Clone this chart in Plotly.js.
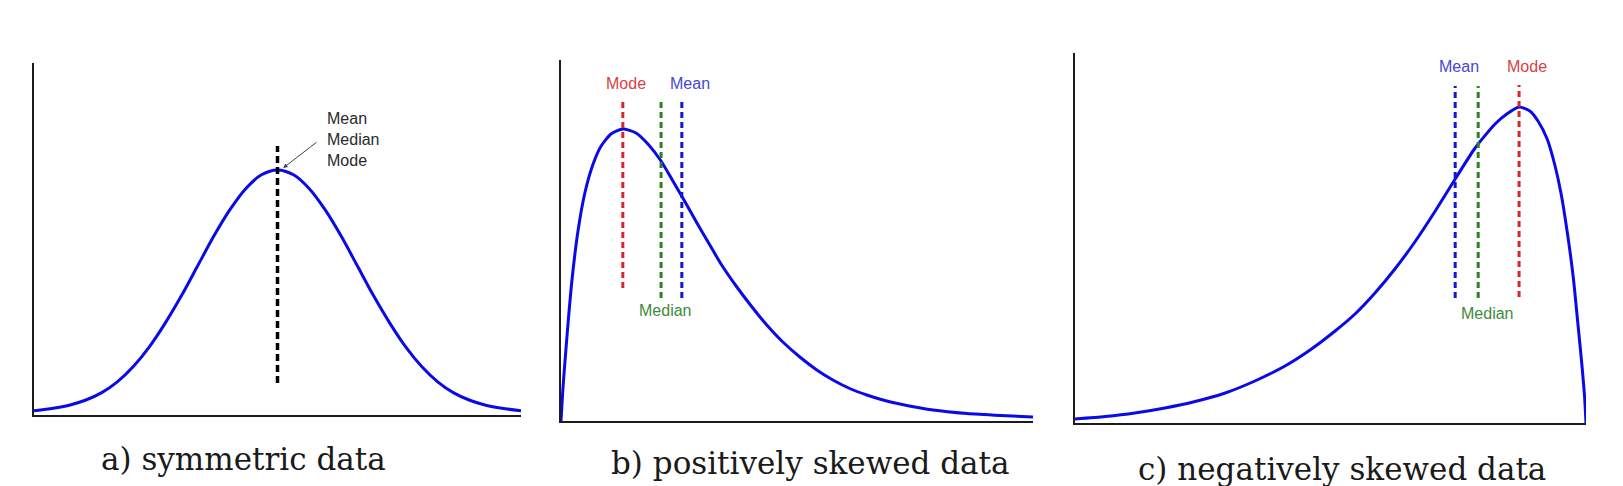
<!DOCTYPE html>
<html><head><meta charset="utf-8">
<script src="https://cdn.plot.ly/plotly-3.0.1.min.js"></script>
<style>html,body{margin:0;padding:0;background:#fff;} #chart{width:1623px;height:486px;}</style>
</head><body><div id="chart"></div>
<script>
// ---- Panel a: symmetric data ----
const symX = [-3.04,-2.8,-2.6,-2.4,-2.2,-2.0,-1.8,-1.6,-1.4,-1.2,-1.0,-0.8,-0.6,-0.4,-0.2,0,
              0.2,0.4,0.6,0.8,1.0,1.2,1.4,1.6,1.8,2.0,2.2,2.4,2.6,2.8,3.04];
const symY = [0.007,0.011,0.016,0.024,0.036,0.054,0.079,0.111,0.150,0.194,0.242,0.290,0.333,0.368,0.391,0.399,
              0.391,0.368,0.333,0.290,0.242,0.194,0.150,0.111,0.079,0.054,0.036,0.024,0.016,0.011,0.007];
const symCentre = 0;
const symLineLow = 0.052, symLineHigh = 0.438;
const symLabel = 'Mean<br>Median<br>Mode';

// ---- Panel b: positively skewed data ----
const posX = [0,0.04,0.085,0.15,0.23,0.36,0.51,0.68,0.85,1.06,1.31,1.59,1.86,2.12,2.37,2.63,2.88,3.14,3.39,3.71,
              4.03,4.36,4.70,5.06,5.42,5.76,6.14,6.48,6.82,7.18,7.88,8.60,9.32,10.0];
const posY = [0,0.032,0.060,0.098,0.140,0.190,0.229,0.257,0.275,0.287,0.292,0.288,0.276,0.260,0.240,0.219,0.198,0.177,0.157,0.135,
              0.115,0.096,0.079,0.064,0.051,0.041,0.032,0.026,0.021,0.017,0.011,0.0075,0.0055,0.004];
const posStatNames = ['Mode','Median','Mean'];
const posStatX = [1.31,2.12,2.56];
const posStatLow = [0.133,0.123,0.123];
const posStatHigh = [0.321,0.319,0.319];

// ---- Panel c: negatively skewed data ----
const negX = [0,0.59,1.17,1.76,2.35,2.94,3.52,4.11,4.60,5.09,5.48,5.87,6.26,6.65,7.05,7.44,7.83,8.22,8.45,8.69,
              8.90,9.06,9.24,9.39,9.51,9.63,9.75,9.84,9.92,9.97,10.0];
const negY = [0.004,0.0065,0.010,0.015,0.0215,0.030,0.042,0.057,0.073,0.092,0.109,0.130,0.154,0.181,0.212,0.244,0.275,0.299,0.309,0.316,
              0.312,0.302,0.284,0.258,0.230,0.192,0.146,0.100,0.058,0.028,0];
const negStatNames = ['Mean','Median','Mode'];
const negStatX = [7.44,7.89,8.69];
const negStatLow = [0.125,0.125,0.126];
const negStatHigh = [0.337,0.337,0.338];

const captions = ['a) symmetric data','b) positively skewed data','c) negatively skewed data'];

const statColor = {Mode:'#d9262a', Median:'#2f7f23', Mean:'#1414d4'};
const statText  = {Mode:'#d8423f', Median:'#3e8b3a', Mean:'#4747d8'};
const curveColor = '#0a0ae8';
const narrow = '"Liberation Sans Narrow", "Arial Narrow", "Liberation Sans", Arial, sans-serif';

const traces = [];
traces.push({x:symX, y:symY, xaxis:'x', yaxis:'y', mode:'lines', line:{color:curveColor, width:3, shape:'spline', smoothing:0.8}, hoverinfo:'skip'});
traces.push({x:[symCentre,symCentre], y:[symLineLow,symLineHigh], xaxis:'x', yaxis:'y', mode:'lines', line:{color:'#000', width:3.5, dash:'7px,4px'}, hoverinfo:'skip'});

traces.push({x:posX, y:posY, xaxis:'x2', yaxis:'y2', mode:'lines', line:{color:curveColor, width:3, shape:'spline', smoothing:0.6}, hoverinfo:'skip'});
posStatNames.forEach((n,i)=>{
  traces.push({x:[posStatX[i],posStatX[i]], y:[posStatLow[i],posStatHigh[i]], xaxis:'x2', yaxis:'y2', mode:'lines', line:{color:statColor[n], width:3, dash:'6px,4px'}, hoverinfo:'skip'});
});

traces.push({x:negX, y:negY, xaxis:'x3', yaxis:'y3', mode:'lines', line:{color:curveColor, width:3, shape:'spline', smoothing:0.6}, hoverinfo:'skip'});
negStatNames.forEach((n,i)=>{
  traces.push({x:[negStatX[i],negStatX[i]], y:[negStatLow[i],negStatHigh[i]], xaxis:'x3', yaxis:'y3', mode:'lines', line:{color:statColor[n], width:3, dash:'6px,4px'}, hoverinfo:'skip'});
});

const W = 1623, H = 486;
const px = v => v / W;
const py = v => 1 - v / H;

function ax(domain, range, anchor) {
  return {domain: domain, range: range, anchor: anchor, showline:true, linecolor:'#1c1c1c', linewidth:2,
          showgrid:false, zeroline:false, showticklabels:false, ticks:'', fixedrange:true};
}

const labelSize = 16;
const annotations = [];
// panel a labels
annotations.push({xref:'x', yref:'y', x:0.59, y:0.448, text:symLabel, showarrow:false, xanchor:'left', yanchor:'middle', align:'left',
  font:{family:narrow, size:labelSize, color:'#2a2a2a'}});
annotations.push({xref:'x', yref:'y', x:0.07, y:0.402, ax:35, ay:-27, text:'', showarrow:true, arrowhead:2, arrowsize:0.9, arrowwidth:1, arrowcolor:'#444'});
// panel b labels
const posLabelY = {Mode:0.338, Mean:0.338, Median:0.111};
const posShift = {Mode:3, Mean:8, Median:4};
posStatNames.forEach((n,i)=>{
  annotations.push({xref:'x2', yref:'y2', x:posStatX[i], y:posLabelY[n], xshift:posShift[n], text:n, showarrow:false, xanchor:'center', yanchor:'middle',
    font:{family:narrow, size:labelSize, color:statText[n]}});
});
// panel c labels
const negLabelY = {Mode:0.357, Mean:0.357, Median:0.110};
const negShift = {Mode:8, Mean:4, Median:9};
negStatNames.forEach((n,i)=>{
  annotations.push({xref:'x3', yref:'y3', x:negStatX[i], y:negLabelY[n], xshift:negShift[n], text:n, showarrow:false, xanchor:'center', yanchor:'middle',
    font:{family:narrow, size:labelSize, color:statText[n]}});
});
// captions
const capPos = [[243,459],[810,463],[1342,469]];
captions.forEach((c,i)=>{
  annotations.push({xref:'paper', yref:'paper', x:px(capPos[i][0]), y:py(capPos[i][1]), text:c, showarrow:false, xanchor:'center', yanchor:'middle',
    font:{family:'"DejaVu Serif", serif', size:31, color:'#1a1a1a'}});
});

const layout = {
  width: W, height: H,
  margin:{l:0,r:0,t:0,b:0,pad:0},
  paper_bgcolor:'#fff', plot_bgcolor:'#fff',
  showlegend:false,
  xaxis: ax([px(34), px(521)], [-3.04, 3.04], 'y'),
  yaxis: ax([py(415), py(63)], [0, 0.573], 'x'),
  xaxis2: ax([px(561), px(1033)], [0, 10], 'y2'),
  yaxis2: ax([py(421), py(60)], [0, 0.361], 'x2'),
  xaxis3: ax([px(1075), px(1586)], [0, 10], 'y3'),
  yaxis3: ax([py(423), py(53)], [0, 0.370], 'x3'),
  annotations: annotations
};

Plotly.newPlot('chart', traces, layout, {displayModeBar:false, staticPlot:true});
</script></body></html>
